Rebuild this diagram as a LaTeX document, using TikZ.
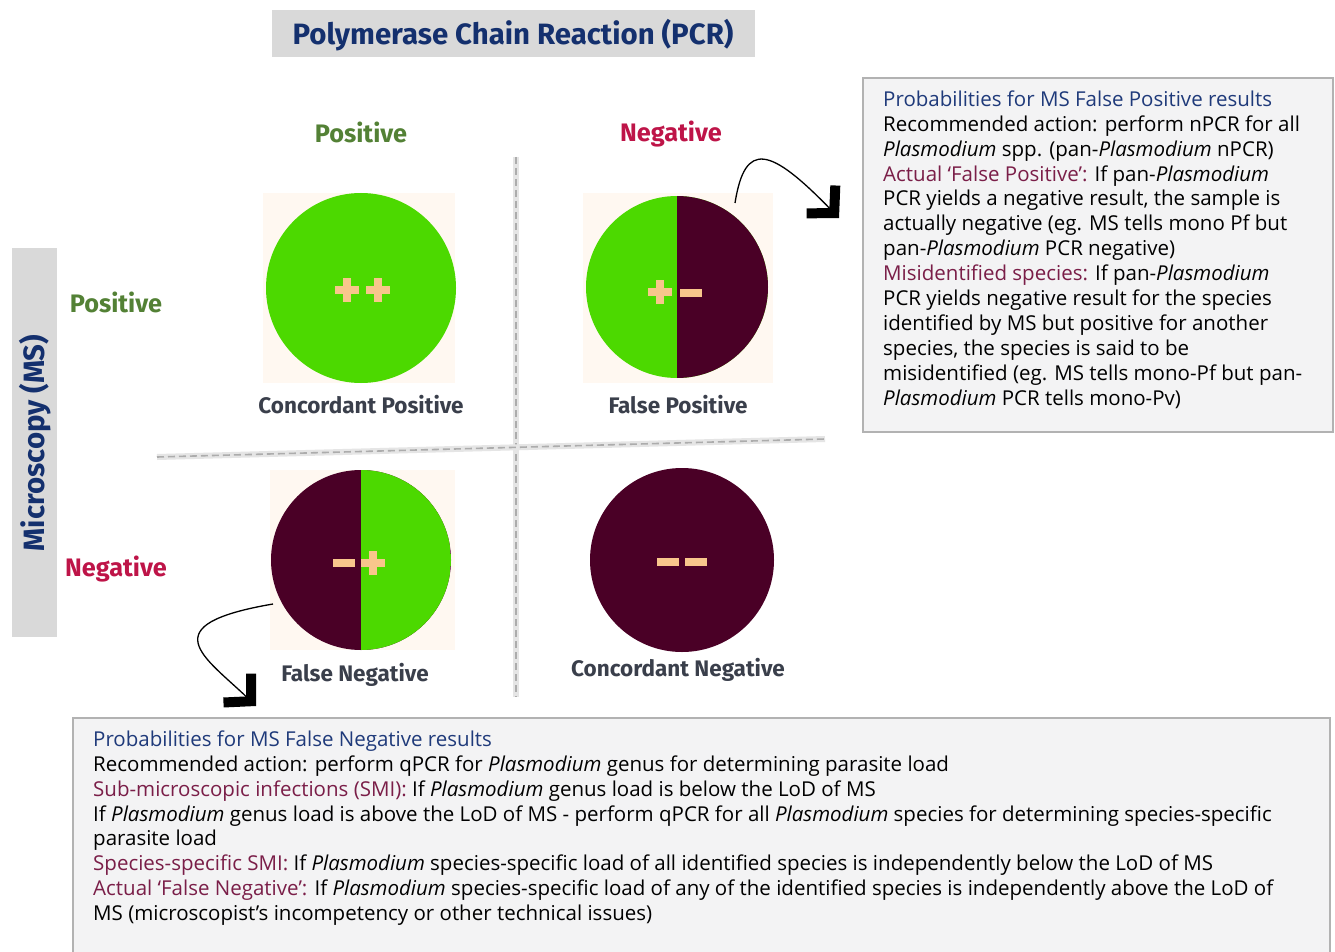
\documentclass[tikz,border=0pt]{standalone}
\usepackage{fontspec}
\setmainfont{Open Sans}
\newfontfamily\dinfont{Fira Sans}
\usetikzlibrary{arrows.meta}
\definecolor{cgreen}{HTML}{4CD900}
\definecolor{cmaroon}{HTML}{4A0026}
\definecolor{cpeach}{HTML}{F8C68C}
\definecolor{ccream}{HTML}{FFF8F1}
\definecolor{navy}{HTML}{14306E}
\definecolor{hnavy}{HTML}{1F3A7A}
\definecolor{sub}{HTML}{7A1E48}
\definecolor{lgreen}{HTML}{538135}
\definecolor{lred}{HTML}{BE1448}
\definecolor{lgray}{HTML}{3A3F4B}
\definecolor{boxgray}{HTML}{D9D9D9}
\definecolor{panel}{HTML}{F3F3F4}
\tikzset{
  hdrbox/.style={fill=boxgray, draw=none},
  axlabel/.style={font=\dinfont\bfseries\fontsize{29.4}{32}\selectfont, text=navy},
  poslabel/.style={font=\dinfont\bfseries\fontsize{25.3}{28}\selectfont, text=lgreen},
  neglabel/.style={font=\dinfont\bfseries\fontsize{25.3}{28}\selectfont, text=lred},
  caselabel/.style={font=\dinfont\bfseries\fontsize{22.5}{26}\selectfont, text=lgray},
  disc/.style={circle, inner sep=0pt, minimum size=#1},
  righthalf/.style={path picture={\fill[#1] (path picture bounding box.north) rectangle (path picture bounding box.south east);}},
  divider/.style={draw=gray!65, line width=1.6pt, dash pattern=on 7pt off 4pt},
  dividerhalo/.style={draw=gray!20, line width=6pt},
  panelbox/.style={fill=panel, draw=gray!60, line width=1.5pt},
  bodytext/.style={font=\fontsize{20.5}{24.9}\selectfont, align=left, inner sep=0pt, anchor=north west},
  curvearrow/.style={draw=black, line width=1.3pt, -{Straight Barb[sharp, length=19pt, width=40pt, line width=10pt]}},
  plussign/.pic={\fill[cpeach] (-12,-4) rectangle (12,4); \fill[cpeach] (-4,-12) rectangle (4,12);},
  minussign/.pic={\fill[cpeach] (-11,-4) rectangle (11,4);}
}
\newcommand{\hd}[1]{\textcolor{hnavy}{#1}}
\newcommand{\sh}[1]{\textcolor{sub}{#1}}
\begin{document}
\begin{tikzpicture}[x=1pt,y=-1pt]
\useasboundingbox (0,0) rectangle (1335,952);
\fill[white] (0,0) rectangle (1335,952);

% header boxes
\fill[hdrbox] (272,10) rectangle (755,57);
\node[axlabel] (pcr) at (513,35) {Polymerase Chain Reaction (PCR)};
\fill[hdrbox] (12,248) rectangle (57,637);
\node[axlabel, rotate=90] (ms) at (35,443) {Microscopy (MS)};

% column / row labels
\node[poslabel] (cpos) at (361,132) {Positive};
\node[neglabel] (cneg) at (671,134) {Negative};
\node[poslabel] (rpos) at (116,302) {Positive};
\node[neglabel] (rneg) at (116,569) {Negative};

% dividers
\draw[dividerhalo] (516,157) -- (516,697);
\draw[divider] (516,157) -- (516,697);
\draw[dividerhalo] (157,457) -- (825,439);
\draw[divider] (157,457) -- (825,439);

% cream backgrounds
\fill[ccream] (263,193) rectangle (455,383);
\fill[ccream] (583,193) rectangle (773,383);
\fill[ccream] (270,470) rectangle (455,650);

% discs
\node[disc=190pt, fill=cgreen] (tp) at (361,288) {};
\node[disc=182pt, fill=cgreen, righthalf=cmaroon] (fp) at (677,287) {};
\node[disc=180pt, fill=cmaroon, righthalf=cgreen] (fn) at (361,560) {};
\node[disc=184pt, fill=cmaroon] (tn) at (682,560) {};

% signs
\pic at (346.5,290) {plussign};
\pic at (377.5,290) {plussign};
\pic at (660,292) {plussign};
\pic at (691,293) {minussign};
\pic at (344,563) {minussign};
\pic at (373,563) {plussign};
\pic at (668,562) {minussign};
\pic at (696,562) {minussign};

% case labels
\node[caselabel] (ltp) at (361,405) {Concordant Positive};
\node[caselabel] (lfp) at (678,405) {False Positive};
\node[caselabel] (lfn) at (355,675) {False Negative};
\node[caselabel] (ltn) at (678,670) {Concordant Negative};

% right panel
\draw[panelbox] (863,78) rectangle (1333,432);
\node[bodytext] (fptext) at (883,90.5) {%
\hd{Probabilities for MS False Positive results}\\
Recommended action: perform nPCR for all\\
\textit{Plasmodium} spp. (pan-\textit{Plasmodium} nPCR)\\
\sh{Actual ‘False Positive’:} If pan-\textit{Plasmodium}\\
PCR yields a negative result, the sample is\\
actually negative (eg. MS tells mono Pf but\\
pan-\textit{Plasmodium} PCR negative)\\
\sh{Misidentified species:} If pan-\textit{Plasmodium}\\
PCR yields negative result for the species\\
identified by MS but positive for another\\
species, the species is said to be\\
misidentified (eg. MS tells mono-Pf but pan-\\
\textit{Plasmodium} PCR tells mono-Pv)};

% bottom panel
\fill[panel] (73,718) rectangle (1330,955);
\draw[draw=gray!60, line width=1.5pt] (73,955) -- (73,718) -- (1330,718) -- (1330,955);
\node[bodytext] (fntext) at (93,730.5) {%
\hd{Probabilities for MS False Negative results}\\
Recommended action: perform qPCR for \textit{Plasmodium} genus for determining parasite load\\
\sh{Sub-microscopic infections (SMI):} If \textit{Plasmodium} genus load is below the LoD of MS\\
If \textit{Plasmodium} genus load is above the LoD of MS - perform qPCR for all \textit{Plasmodium} species for determining species-specific\\
parasite load\\
\sh{Species-specific SMI:} If \textit{Plasmodium} species-specific load of all identified species is independently below the LoD of MS\\
\sh{Actual ‘False Negative’:} If \textit{Plasmodium} species-specific load of any of the identified species is independently above the LoD of\\
MS (microscopist’s incompetency or other technical issues)};

% connectors
\coordinate (fpstart) at (735,203);
\coordinate (fpend) at (839,218);
\coordinate (fnstart) at (273,604);
\coordinate (fnend) at (256,706);
\draw[curvearrow] (fpstart) .. controls (745,140) and (770,147) .. (fpend);
\draw[curvearrow] (fnstart) .. controls (150,625) and (205,657) .. (fnend);
\end{tikzpicture}
\end{document}
